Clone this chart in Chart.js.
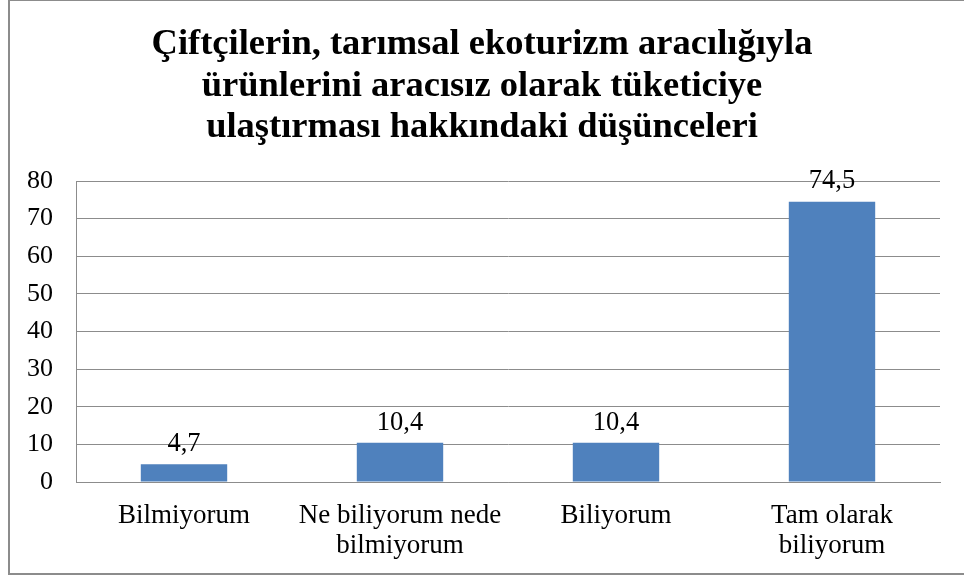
<!DOCTYPE html>
<html>
<head>
<meta charset="utf-8">
<script src="https://cdn.jsdelivr.net/npm/chart.js@4"></script>
<style>
  body { margin: 0; background: #fff; }
  #wrap { width: 964px; height: 579px; }
</style>
</head>
<body>
<div id="wrap"><canvas id="Opinions"></canvas></div>
<script>
// Kategoriler ve yüzde değerleri
const categories = ["Bilmiyorum", ["Ne biliyorum nede", "bilmiyorum"], "Biliyorum", ["Tam olarak", "biliyorum"]];
const percentages = [4.7, 10.4, 10.4, 74.5];
const titleLines = [
    "Çiftçilerin, tarımsal ekoturizm aracılığıyla",
    "ürünlerini aracısız olarak tüketiciye",
    "ulaştırması hakkındaki düşünceleri"
];

const serif = "'Liberation Serif', 'Times New Roman', serif";

// başlık, tuvalin ortasına
const chartTitle = {
    id: "chartTitle",
    afterDraw(chart) {
        const ctx = chart.ctx;
        ctx.save();
        ctx.font = "bold 36.5px " + serif;
        ctx.fillStyle = "#000";
        ctx.textAlign = "center";
        ctx.textBaseline = "middle";
        titleLines.forEach((line, i) => {
            ctx.fillText(line, chart.width / 2, 45 + i * 41.5);
        });
        ctx.restore();
    }
};

// değer etiketleri (virgüllü)
const valueLabels = {
    id: "valueLabels",
    afterDatasetsDraw(chart) {
        const ctx = chart.ctx;
        const meta = chart.getDatasetMeta(0);
        ctx.save();
        ctx.font = "26.5px " + serif;
        ctx.fillStyle = "#000";
        ctx.textAlign = "center";
        ctx.textBaseline = "bottom";
        meta.data.forEach((bar, i) => {
            const txt = String(percentages[i]).replace(".", ",");
            ctx.fillText(txt, bar.x, bar.y - 7);
        });
        ctx.restore();
    }
};

// dış çerçeve
const frame = {
    id: "frame",
    afterDraw(chart) {
        const ctx = chart.ctx;
        ctx.save();
        ctx.strokeStyle = "#8c8c8c";
        ctx.lineWidth = 2;
        ctx.strokeRect(9, 0, 970, 574);
        ctx.restore();
    }
};

new Chart("Opinions", {
    type: "bar",
    data: {
        labels: categories,
        datasets: [{
            data: percentages,
            backgroundColor: "#4F81BD",
            borderWidth: 0,
            categoryPercentage: 1,
            barPercentage: 0.4
        }]
    },
    options: {
        responsive: true,
        maintainAspectRatio: false,
        animation: false,
        layout: { padding: { left: 0, right: 24, top: 181, bottom: 0 } },
        plugins: {
            legend: { display: false },
            tooltip: { enabled: false },
            title: { display: false }
        },
        scales: {
            x: {
                grid: { display: false, drawTicks: false },
                border: { color: "#8c8c8c", width: 1 },
                ticks: {
                    color: "#000",
                    padding: 19,
                    maxRotation: 0,
                    font: { family: serif, size: 27, lineHeight: 1.1 }
                },
                afterFit(scale) { scale.height = 97; }
            },
            y: {
                min: 0,
                max: 80,
                ticks: {
                    stepSize: 10,
                    color: "#000",
                    padding: 23,
                    font: { family: serif, size: 26 }
                },
                grid: { color: "#8c8c8c", drawTicks: false },
                border: { color: "#8c8c8c", width: 1 },
                afterFit(scale) { scale.width = 76; }
            }
        }
    },
    plugins: [chartTitle, valueLabels, frame]
});
</script>
</body>
</html>
